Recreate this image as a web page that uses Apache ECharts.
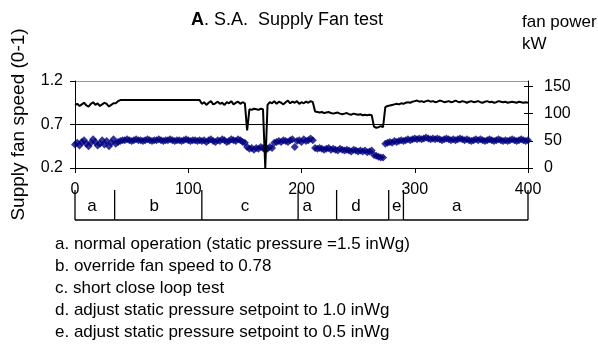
<!DOCTYPE html>
<html>
<head>
<meta charset="utf-8">
<script src="https://cdn.jsdelivr.net/npm/echarts@6/dist/echarts.min.js"></script>
<style>
  html, body { margin: 0; padding: 0; background: #fff; }
  #chart { width: 598px; height: 345px; }
</style>
</head>
<body>
<div id="chart"></div>
<script>
// Supply fan test log, one sample every 2 minutes (0..400)
const SAMPLE_STEP = 2;

// Fan power, kW (right axis)
const fanPower = [
  116,118,114,117,120,115,113,118,121,116,119,114,117,120,118,113,116,119,119,123,
  125,125,125,125,125,125,125,125,125,125,125,125,125,125,125,125,125,125,
  125,125,125,125,125,125,125,125,125,125,125,125,125,125,125,125,125,125,
  118,121,116,120,123,117,119,122,118,120,116,121,119,123,117,120,122,118,121,119,
  69,
  108,107,109,108,107,109,108,
  0,
  116,121,119,123,118,122,120,117,121,124,119,122,120,123,118,121,119,122,120,123,121,
  104,103,102,103,101,102,103,101,100,101,102,100,99,100,101,99,98,100,99,98,99,97,98,97,98,97,
  76,74,75,77,75,
  112,114,115,116,117,118,117,119,118,120,
  121,120,122,123,124,122,123,121,123,124,
  122,123,121,122,124,123,121,122,123,121,
  122,124,122,121,123,122,120,122,123,121,
  122,123,121,120,122,123,121,122,120,121,
  123,122,121,122,120,121,122,121,120,122,
  121,120,121,120
];

// Supply fan speed, 0-1 (left axis)
const fanSpeed = [
  0.47,0.49,0.46,0.50,0.52,0.48,0.45,0.49,0.53,0.50,0.46,0.48,0.52,0.47,0.51,0.45,0.49,0.53,0.48,0.50,
  0.51,0.52,0.52,0.53,0.52,0.51,0.52,0.53,0.52,0.52,
  0.51,0.52,0.53,0.52,0.51,0.52,0.52,0.53,0.52,0.51,
  0.52,0.52,0.53,0.52,0.51,0.52,0.52,0.51,0.52,0.53,
  0.52,0.51,0.52,0.52,0.51,0.52,
  0.51,0.52,0.50,0.52,0.53,0.51,0.50,0.52,0.51,0.53,
  0.52,0.50,0.51,0.53,0.52,0.51,0.53,0.52,0.50,0.49,
  0.44,0.42,0.43,0.41,0.43,0.42,0.44,0.43,0.41,0.42,0.44,0.43,
  0.49,0.50,0.51,0.50,0.52,0.51,0.50,0.52,0.53,0.44,0.51,0.52,0.50,0.53,0.51,0.52,0.54,0.52,
  0.43,0.42,0.43,0.42,0.41,0.42,0.43,0.41,0.42,0.41,
  0.40,0.42,0.41,0.40,0.41,0.40,0.39,0.41,0.40,0.39,
  0.40,0.39,0.40,0.38,0.39,0.40,
  0.35,0.34,0.33,0.32,0.32,
  0.48,0.49,0.50,0.49,0.51,0.50,0.51,0.52,0.51,0.52,
  0.53,0.52,0.53,0.54,0.53,0.54,0.53,0.54,0.55,0.54,
  0.53,0.54,0.53,0.54,0.53,0.52,0.53,0.54,0.53,0.52,
  0.53,0.52,0.53,0.54,0.53,0.52,0.53,0.52,0.51,0.52,
  0.53,0.52,0.53,0.52,0.51,0.52,0.53,0.52,0.51,0.52,
  0.53,0.52,0.51,0.52,0.51,0.52,0.53,0.52,0.51,0.52,
  0.53,0.52,0.51,0.52
];

// Test phases along the time axis
const phaseBounds = [0, 35, 112, 197, 231, 277, 290, 400];
const phaseLabels = ['a', 'b', 'c', 'a', 'd', 'e', 'a'];
const phaseLabelAt = [15, 70, 150, 205, 248, 284, 337];

const powerTicks = [0, 50, 100, 150];

const notes = [
  'a. normal operation (static pressure =1.5 inWg)',
  'b. override fan speed to 0.78',
  'c. short close loop test',
  'd. adjust static pressure setpoint to 1.0 inWg',
  'e. adjust static pressure setpoint to 0.5 inWg'
];

const FONT = '"Liberation Sans", Arial, sans-serif';

const speedData = fanSpeed.map((v, i) => [i * SAMPLE_STEP, v]);
const powerData = fanPower.map((v, i) => [i * SAMPLE_STEP, v]);
const phaseData = phaseLabels.map((l, i) => [phaseBounds[i], phaseBounds[i + 1], phaseLabelAt[i]]);

const chart = echarts.init(document.getElementById('chart'), null, { renderer: 'canvas' });

const noteGraphics = notes.map((t, i) => ({
  type: 'text',
  x: 55,
  y: 244 + i * 22,
  style: { text: t, font: '17px ' + FONT, fill: '#000', verticalAlign: 'middle' }
}));

chart.setOption({
  animation: false,
  backgroundColor: '#fff',
  textStyle: { fontFamily: FONT },
  title: {
    text: '{b|A}. S.A.  Supply Fan test',
    left: 186,
    top: 6,
    textStyle: {
      fontFamily: FONT, fontSize: 18, fontWeight: 'normal', color: '#000',
      rich: { b: { fontFamily: FONT, fontSize: 18, fontWeight: 'bold', color: '#000' } }
    }
  },
  graphic: [
    {
      type: 'text', x: 522, y: 33,
      style: { text: 'fan power\nkW', font: '17px ' + FONT, fill: '#000', verticalAlign: 'middle', lineHeight: 22 }
    }
  ].concat(noteGraphics),
  grid: [
    { left: 75, right: 70, top: 81, bottom: 177, containLabel: false },
    { left: 75, right: 70, top: 190, height: 30, containLabel: false }
  ],
  xAxis: [
    {
      gridIndex: 0, type: 'value', min: 0, max: 400, interval: 100,
      axisLine: { onZero: false, lineStyle: { color: '#000', width: 1 } },
      axisTick: { show: true, length: 5, lineStyle: { color: '#000' } },
      axisLabel: { color: '#000', fontSize: 16, margin: 14, fontFamily: FONT },
      splitLine: { show: false }
    },
    { gridIndex: 1, type: 'value', min: 0, max: 400, show: false }
  ],
  yAxis: [
    {
      gridIndex: 0, type: 'value', min: 0.2, max: 1.2, interval: 0.5,
      name: 'Supply fan speed (0-1)', nameLocation: 'middle', nameGap: 47,
      nameTextStyle: { color: '#000', fontSize: 19, fontFamily: FONT },
      axisLine: { show: true, lineStyle: { color: '#000' } },
      axisTick: { show: true, length: 5, lineStyle: { color: '#000' } },
      axisLabel: { color: '#000', fontSize: 16, margin: 12, fontFamily: FONT, formatter: v => v.toFixed(1) },
      splitLine: { show: true, lineStyle: { color: ['#000', '#000', '#999'], width: 1 } }
    },
    {
      gridIndex: 0, type: 'value', position: 'right', min: 0, max: 160,
      axisLine: { show: true, lineStyle: { color: '#000' } },
      axisTick: { show: true, length: 5, customValues: powerTicks, lineStyle: { color: '#000' } },
      axisLabel: { color: '#000', fontSize: 16, margin: 16, fontFamily: FONT, customValues: powerTicks },
      splitLine: { show: false }
    },
    {
      gridIndex: 0, type: 'value', position: 'right', min: 0, max: 160,
      axisLine: { show: false },
      axisTick: { show: true, inside: true, length: 4, customValues: powerTicks, lineStyle: { color: '#000' } },
      axisLabel: { show: false },
      splitLine: { show: false }
    },
    { gridIndex: 1, type: 'value', min: 0, max: 1, show: false }
  ],
  series: [
    {
      name: 'fan speed', type: 'scatter', xAxisIndex: 0, yAxisIndex: 0,
      symbol: 'diamond', symbolSize: 8,
      itemStyle: { color: '#000080' },
      data: speedData, z: 2
    },
    {
      name: 'fan power', type: 'line', xAxisIndex: 0, yAxisIndex: 1,
      showSymbol: false, symbol: 'none',
      lineStyle: { color: '#000', width: 2 },
      data: powerData, z: 3
    },
    {
      name: 'phases', type: 'custom', xAxisIndex: 1, yAxisIndex: 3,
      data: phaseData,
      renderItem: function (params, api) {
        const s = api.value(0), e = api.value(1), at = api.value(2);
        const top = api.coord([s, 1]);
        const bot = api.coord([s, 0]);
        const endBot = api.coord([e, 0]);
        const endTop = api.coord([e, 1]);
        const mid = api.coord([at, 0.5]);
        const ls = { stroke: '#000', lineWidth: 1.3 };
        const children = [
          { type: 'line', shape: { x1: top[0], y1: top[1], x2: bot[0], y2: bot[1] }, style: ls },
          { type: 'line', shape: { x1: bot[0], y1: bot[1], x2: endBot[0], y2: endBot[1] }, style: ls },
          {
            type: 'text',
            style: {
              text: phaseLabels[params.dataIndex], x: mid[0], y: mid[1] + 1,
              align: 'center', verticalAlign: 'middle',
              font: '17px ' + FONT, fill: '#000'
            }
          }
        ];
        if (params.dataIndex === phaseLabels.length - 1) {
          children.push({ type: 'line', shape: { x1: endTop[0], y1: endTop[1], x2: endBot[0], y2: endBot[1] }, style: ls });
        }
        return { type: 'group', children: children };
      }
    }
  ]
});
</script>
</body>
</html>
